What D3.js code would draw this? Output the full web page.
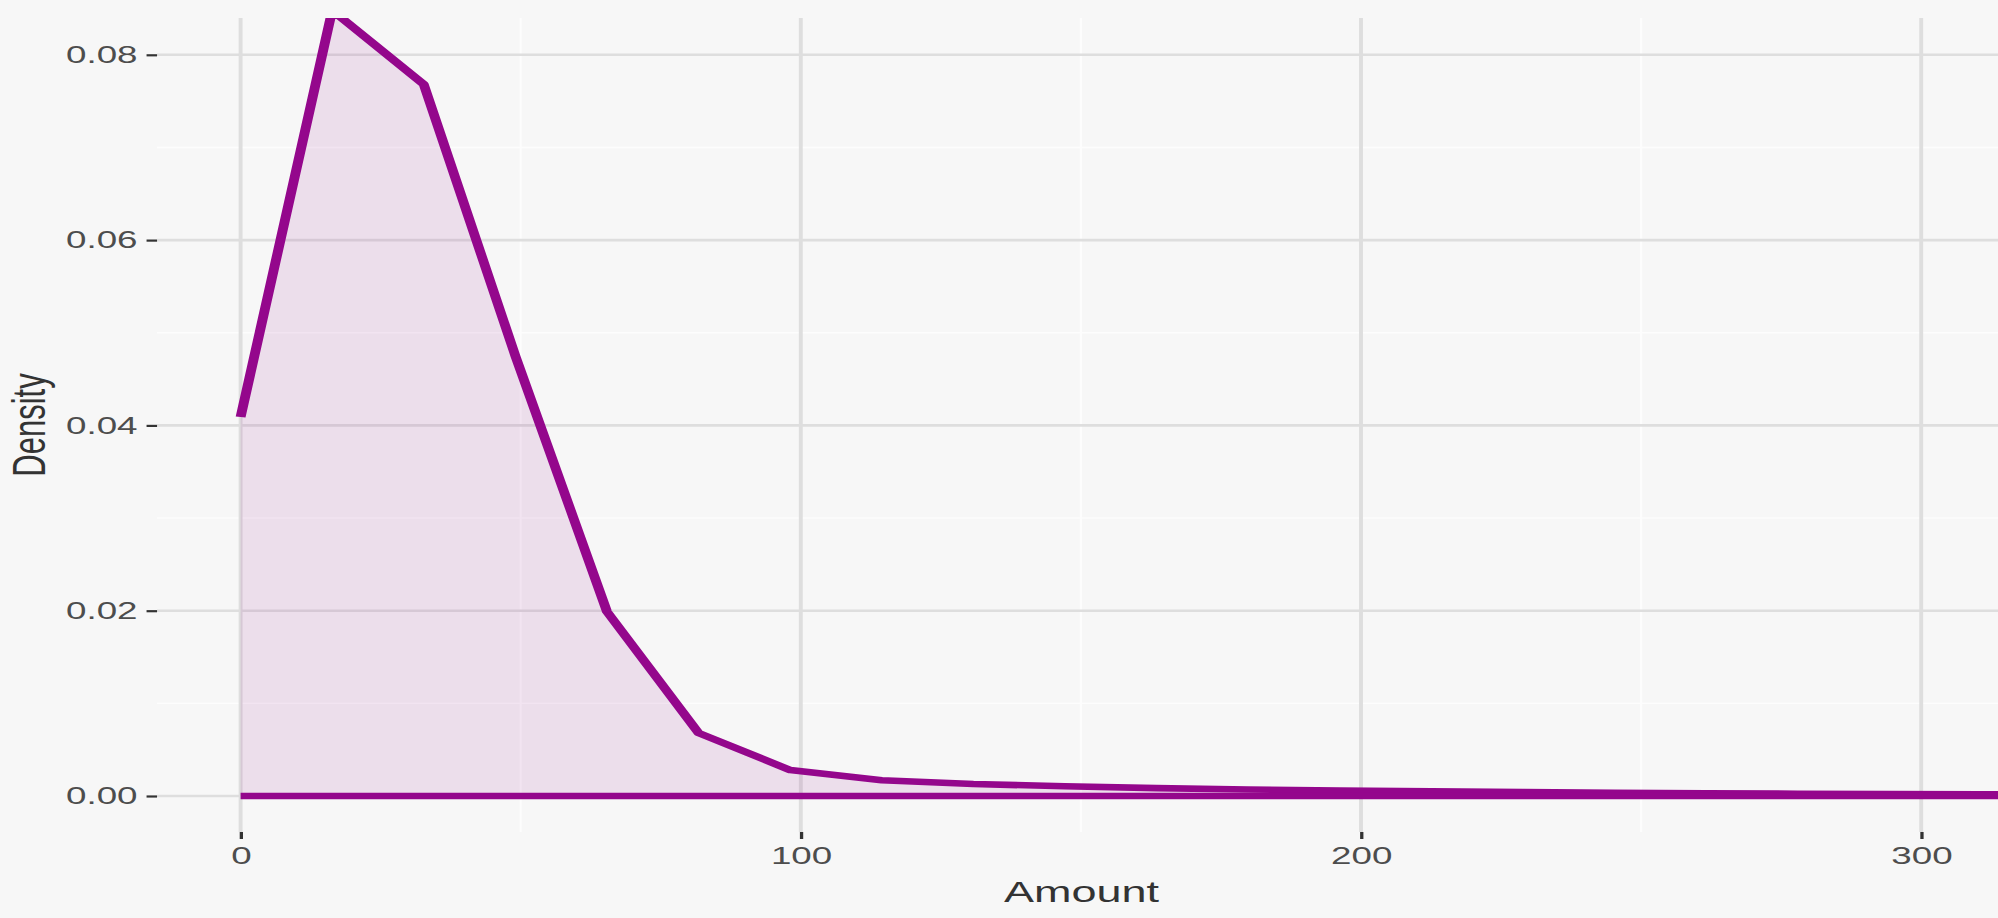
<!DOCTYPE html>
<html>
<head>
<meta charset="utf-8">
<script src="https://cdn.jsdelivr.net/npm/d3@7"></script>
<style>
  html, body { margin: 0; padding: 0; background: #f7f7f7; overflow: hidden; }
  svg { display: block; }
  text { font-family: "Liberation Sans", Arial, Helvetica, sans-serif; }
</style>
</head>
<body>
<script>
//Density estimate
var amount  = [0, 16.35, 32.7, 49.05, 65.4, 81.75, 98.1, 114.45, 130.8, 147.15,
               163.5, 179.85, 196.2, 212.55, 228.9, 245.25, 261.6, 277.95, 294.3, 310.65, 327.0];
var density = [0.0409, 0.0848, 0.0768, 0.0475, 0.0199, 0.0068, 0.0028, 0.0017, 0.0013, 0.00105,
               0.00085, 0.0007, 0.0006, 0.0005, 0.00042, 0.00035, 0.0003, 0.00025, 0.0002, 0.00018, 0.00015];

//Tick labels
var xTicks = [0, 100, 200, 300];
var xMinor = [50, 150, 250];
var yTicks = [0, 0.02, 0.04, 0.06, 0.08];
var yMinor = [0.01, 0.03, 0.05, 0.07];

var dataset = amount.map(function(a, i) { return { Amount: a, Density: density[i] }; });

//Picture is stretched sideways, so draw in narrow units and let the viewBox widen it
var W = 1998, H = 918;
var sx = 1.5;
var w = W / sx;

var panel = { left: 104.7, top: 18, bottom: 832, right: w + 20 };

var xScale = d3.scaleLinear()
    .domain([0, 300])
    .range([160.4, 160.4 + 3 * 373.47]);

var yScale = d3.scaleLinear()
    .domain([0, 0.08])
    .range([796, 54.8]);

var purple = "#94078c";

//Create SVG element
var svg = d3.select("body")
    .append("svg")
    .attr("width", W)
    .attr("height", H)
    .attr("viewBox", "0 0 " + w + " " + H)
    .attr("preserveAspectRatio", "none");

svg.append("rect")
    .attr("width", w)
    .attr("height", H)
    .attr("fill", "#f7f7f7");

svg.append("clipPath")
    .attr("id", "panel")
    .append("rect")
    .attr("x", panel.left)
    .attr("y", panel.top)
    .attr("width", panel.right - panel.left)
    .attr("height", panel.bottom - panel.top);

var grid = svg.append("g").attr("clip-path", "url(#panel)");

//Minor grid
grid.selectAll("line.hminor")
    .data(yMinor)
    .enter()
    .append("line")
    .attr("x1", panel.left)
    .attr("x2", panel.right)
    .attr("y1", d => yScale(d))
    .attr("y2", d => yScale(d))
    .attr("stroke", "#fdfdfd")
    .attr("stroke-width", 1.4);

grid.selectAll("line.vminor")
    .data(xMinor)
    .enter()
    .append("line")
    .attr("x1", d => xScale(d))
    .attr("x2", d => xScale(d))
    .attr("y1", panel.top)
    .attr("y2", panel.bottom)
    .attr("stroke", "#fdfdfd")
    .attr("stroke-width", 1.4);

//Major grid
grid.selectAll("line.hmajor")
    .data(yTicks)
    .enter()
    .append("line")
    .attr("x1", panel.left)
    .attr("x2", panel.right)
    .attr("y1", d => yScale(d))
    .attr("y2", d => yScale(d))
    .attr("stroke", "#dedede")
    .attr("stroke-width", 2.6);

grid.selectAll("line.vmajor")
    .data(xTicks)
    .enter()
    .append("line")
    .attr("x1", d => xScale(d))
    .attr("x2", d => xScale(d))
    .attr("y1", panel.top)
    .attr("y2", panel.bottom)
    .attr("stroke", "#dedede")
    .attr("stroke-width", 2.6);

//Density area and outlines
var plot = svg.append("g").attr("clip-path", "url(#panel)");

var area = d3.area()
    .x(d => xScale(d.Amount))
    .y0(yScale(0))
    .y1(d => yScale(d.Density));

var line = d3.line()
    .x(d => xScale(d.Amount))
    .y(d => yScale(d.Density));

plot.append("path")
    .datum(dataset)
    .attr("d", area)
    .attr("fill", purple)
    .attr("fill-opacity", 0.1);

plot.append("path")
    .datum(dataset)
    .attr("d", line)
    .attr("fill", "none")
    .attr("stroke", purple)
    .attr("stroke-width", 6.6)
    .attr("stroke-linejoin", "round");

plot.append("path")
    .datum([dataset[0], dataset[dataset.length - 1]])
    .attr("d", d3.line().x(d => xScale(d.Amount)).y(yScale(0)))
    .attr("fill", "none")
    .attr("stroke", purple)
    .attr("stroke-width", 6.6);

//Axes
var xAxis = d3.axisBottom(xScale)
    .tickValues(xTicks)
    .tickSize(7)
    .tickPadding(8);

var yAxis = d3.axisLeft(yScale)
    .tickValues(yTicks)
    .tickFormat(d3.format(".2f"))
    .tickSize(7)
    .tickPadding(6);

var gx = svg.append("g")
    .attr("transform", "translate(0," + panel.bottom + ")")
    .call(xAxis);

var gy = svg.append("g")
    .attr("transform", "translate(" + panel.left + ",0)")
    .call(yAxis);

[gx, gy].forEach(function(g) {
    g.select(".domain").remove();
    g.selectAll(".tick line").attr("stroke", "#333333").attr("stroke-width", 2.2);
    g.selectAll(".tick text")
        .attr("fill", "#4d4d4d")
        .style("font-size", "24.5px")
        .style("font-family", "'Liberation Sans', Arial, sans-serif");
});

//Axis titles
svg.append("text")
    .attr("x", 721)
    .attr("y", 902)
    .attr("text-anchor", "middle")
    .attr("fill", "#333333")
    .style("font-size", "30px")
    .text("Amount");

svg.append("text")
    .attr("transform", "translate(30," + ((panel.top + panel.bottom) / 2) + ") rotate(-90)")
    .attr("text-anchor", "middle")
    .attr("fill", "#333333")
    .style("font-size", "31px")
    .text("Density");
</script>
</body>
</html>
